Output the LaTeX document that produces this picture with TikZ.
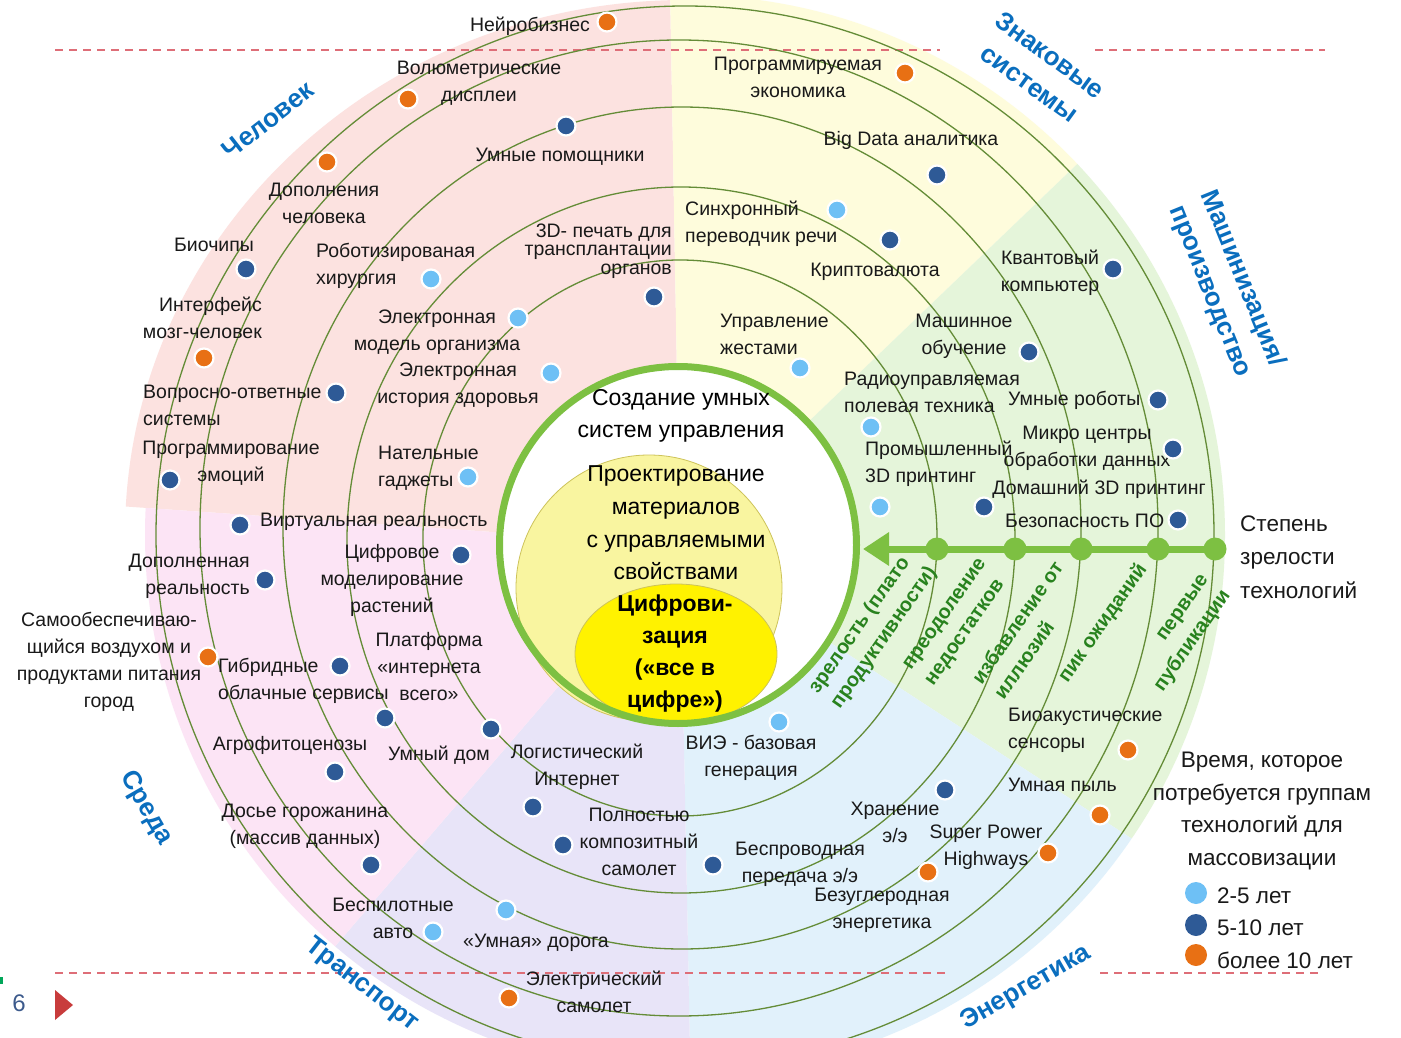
\documentclass[tikz,border=0pt]{standalone}
\usepackage{fontspec}
\setmainfont{Liberation Sans}
\usetikzlibrary{arrows.meta}

\definecolor{humanpink}{RGB}{252,226,224}
\definecolor{signyellow}{RGB}{254,252,220}
\definecolor{machgreen}{RGB}{229,245,218}
\definecolor{energyblue}{RGB}{225,241,251}
\definecolor{transplum}{RGB}{232,228,248}
\definecolor{envpink}{RGB}{252,228,245}
\definecolor{ringgreen}{RGB}{100,140,55}
\definecolor{coregreen}{RGB}{125,192,66}
\definecolor{paleyellow}{RGB}{249,245,160}
\definecolor{paleedge}{RGB}{205,195,90}
\definecolor{dotsoon}{RGB}{110,192,245}
\definecolor{dotmid}{RGB}{46,90,150}
\definecolor{dotlate}{RGB}{232,112,20}
\definecolor{areablue}{RGB}{10,110,190}
\definecolor{stagegreen}{RGB}{40,130,30}
\definecolor{dashred}{RGB}{222,110,120}
\definecolor{slidered}{RGB}{200,60,60}
\definecolor{slideblue}{RGB}{60,90,140}

\begin{document}
\begin{tikzpicture}[x=1pt, y=-1pt,
	ring/.style = {draw=ringgreen, line width=1.3pt},
	lbl/.style = {inner sep=0pt, align=center, text=black!90,
		font=\fontsize{19.5}{27}\selectfont},
	pin/.style = {circle, draw=white, line width=2.2pt,
		minimum size=19pt, inner sep=0pt},
	fast/.style = {pin, fill=dotsoon},
	medium/.style = {pin, fill=dotmid},
	slow/.style = {pin, fill=dotlate},
	area/.style = {inner sep=0pt, align=center, text=areablue,
		font=\bfseries\fontsize{26}{35}\selectfont},
	stage/.style = {inner sep=0pt, text=stagegreen, rotate=55,
		font=\bfseries\fontsize{20}{27}\selectfont},
	milestone/.style = {circle, fill=coregreen, minimum size=23pt, inner sep=0pt},
	core/.style = {circle, draw=coregreen, line width=7pt,
		minimum size=357pt, inner sep=0pt},
	slidedash/.style = {draw=dashred, line width=1.2pt, dash pattern=on 8pt off 6pt}]
	\useasboundingbox (0,0) rectangle (1401,1038);
	\fill[white] (0,0) rectangle (1401,1038);

	\begin{scope}
		\clip (685,535) ellipse [x radius=560, y radius=535];
		\fill[humanpink] (680,545) -- (669.5,-40) -- (-40,-40) -- (-40,495) -- cycle;
	\end{scope}
	\begin{scope}
		\clip (685,535) ellipse [x radius=540, y radius=540];
		\fill[signyellow] (680,545) -- (669.5,-40) -- (1290,-40) -- cycle;
		\fill[machgreen] (680,545) -- (1290,-40) -- (1440,-40) -- (1440,1039) -- cycle;
		\fill[energyblue] (680,545) -- (1440,1039) -- (1440,1100) -- (691,1100) -- cycle;
		\fill[transplum] (680,545) -- (691,1100) -- (203,1100) -- cycle;
		\fill[envpink] (680,545) -- (203,1100) -- (-40,1100) -- (-40,495) -- cycle;
	\end{scope}

	\draw[slidedash] (55,50) -- (940,50);
	\draw[slidedash] (1095,50) -- (1325,50);
	\draw[slidedash] (55,973) -- (948,973);
	\draw[slidedash] (1100,973) -- (1322,973);

	\draw[ring] (685,535) ellipse [x radius=529, y radius=529];
	\draw[ring] (679,528) ellipse [x radius=479, y radius=488];
	\draw[ring] (682,528) ellipse [x radius=399, y radius=421];
	\draw[ring] (681,540) ellipse [x radius=334, y radius=353];
	\draw[ring] (680,538) ellipse [x radius=257, y radius=278];

	\fill[white] (678,545) circle [radius=180];
	\filldraw[fill=paleyellow, draw=paleedge, line width=0.8pt] (649,588) circle [radius=133];
	\filldraw[fill=yellow, draw=paleedge, line width=0.8pt] (676,654) ellipse [x radius=101, y radius=70];
	\node[core] (core) at (678,545) {};

	\node[lbl, text=black, font=\fontsize{23}{32}\selectfont] (control) at (681,416) {Создание умных\\систем управления};
	\node[lbl, text=black, font=\fontsize{23}{32.7}\selectfont] (materials) at (676,523) {Проектирование\\материалов\\с управляемыми\\свойствами};
	\node[lbl, text=black, font=\bfseries\fontsize{23}{32}\selectfont] (digital) at (675,654) {Цифрови-\\зация\\(«все в\\цифре»)};

	% человек
	\node[lbl] (neuro) at (530,26) {Нейробизнес};
	\node[slow] at (607,22) {};
	\node[lbl] (volume) at (479,83) {Волюметрические\\дисплеи};
	\node[slow] at (408,99) {};
	\node[lbl] (assist) at (560,157) {Умные помощники};
	\node[medium] at (566,126) {};
	\node[lbl] (augment) at (324,203) {Дополнения\\человека};
	\node[slow] at (327,162) {};
	\node[lbl] (biochip) at (214,245) {Биочипы};
	\node[medium] at (246,269) {};
	\node[lbl, anchor=west, align=left] (robosurg) at (316,266) {Роботизированая\\хирургия};
	\node[fast] at (431,279) {};
	\node[lbl, anchor=east, align=right] (bci) at (262,318) {Интерфейс\\мозг-человек};
	\node[slow] at (204,358) {};
	\node[lbl, anchor=west, align=left] (qa) at (143,405) {Вопросно-ответные\\системы};
	\node[medium] at (336,393) {};
	\node[lbl] (emotion) at (231,463) {Программирование\\эмоций};
	\node[medium] at (170,480) {};
	\node[lbl, anchor=east, align=right, font=\fontsize{19.5}{18.5}\selectfont] (organs) at (672,251) {3D- печать для\\трансплантации\\органов};
	\node[medium] at (654,297) {};
	\node[lbl] (bodymodel) at (437,332) {Электронная\\модель организма};
	\node[fast] at (518,318) {};
	\node[lbl] (health) at (458,385) {Электронная\\история здоровья};
	\node[fast] at (551,373) {};
	\node[lbl, anchor=west, align=left] (wearable) at (378,468) {Нательные\\гаджеты};
	\node[fast] at (468,477) {};

	% среда
	\node[lbl, anchor=west] (vr) at (260,522) {Виртуальная реальность};
	\node[medium] at (240,525) {};
	\node[lbl, anchor=east, align=right] (ar) at (250,576) {Дополненная\\реальность};
	\node[medium] at (265,580) {};
	\node[lbl] (plants) at (392,580) {Цифровое\\моделирование\\растений};
	\node[medium] at (461,555) {};
	\node[lbl] (city) at (109,662) {Самообеспечиваю-\\щийся воздухом и\\продуктами питания\\город};
	\node[slow] at (208,657) {};
	\node[lbl, anchor=west, align=left] (cloud) at (218,681) {Гибридные\\облачные сервисы};
	\node[medium] at (340,666) {};
	\node[lbl] (iot) at (429,667) {Платформа\\«интернета\\всего»};
	\node[medium] at (385,718) {};
	\node[lbl] (agro) at (290,745) {Агрофитоценозы};
	\node[medium] at (335,772) {};
	\node[lbl] (home) at (439,755) {Умный дом};
	\node[medium] at (491,729) {};
	\node[lbl] (dossier) at (305,826) {Досье горожанина\\(массив данных)};
	\node[medium] at (371,865) {};
	\node[lbl] (drone) at (393,918) {Беспилотные\\авто};
	\node[fast] at (433,932) {};

	% транспорт
	\node[lbl] (logist) at (577,767) {Логистический\\Интернет};
	\node[medium] at (533,807) {};
	\node[lbl] (composite) at (639,842) {Полностью\\композитный\\самолет};
	\node[medium] at (563,845) {};
	\node[lbl] (road) at (536,943) {«Умная» дорога};
	\node[fast] at (506,910) {};
	\node[lbl] (eplane) at (594,992) {Электрический\\самолет};
	\node[slow] at (509,998) {};

	% энергетика
	\node[lbl] (renew) at (751,758) {ВИЭ - базовая\\генерация};
	\node[fast] at (779,722) {};
	\node[lbl] (storage) at (895,822) {Хранение\\э/э};
	\node[medium] at (945,790) {};
	\node[lbl] (superpower) at (986,847) {Super Power\\Highways};
	\node[slow] at (1048,853) {};
	\node[lbl] (wireless) at (800,864) {Беспроводная\\передача э/э};
	\node[medium] at (713,865) {};
	\node[lbl] (carbonfree) at (882,910) {Безуглеродная\\энергетика};
	\node[slow] at (928,872) {};

	% машинизация
	\node[lbl, anchor=west, align=left] (bioacoustic) at (1008,730) {Биоакустические\\сенсоры};
	\node[slow] at (1128,750) {};
	\node[lbl, anchor=west] (dust) at (1008,785) {Умная пыль};
	\node[slow] at (1100,815) {};
	\node[lbl] (quantum) at (1050,273) {Квантовый\\компьютер};
	\node[medium] at (1113,269) {};
	\node[lbl] (ml) at (964,336) {Машинное\\обучение};
	\node[medium] at (1029,352) {};
	\node[lbl, anchor=west, align=left] (radio) at (844,392) {Радиоуправляемая\\полевая техника};
	\node[fast] at (871,427) {};
	\node[lbl, anchor=west] (robots) at (1008,400) {Умные роботы};
	\node[medium] at (1158,400) {};
	\node[lbl, anchor=west, align=left] (print3d) at (865,464) {Промышленный\\3D принтинг};
	\node[fast] at (880,507) {};
	\node[lbl] (microdc) at (1087,448) {Микро центры\\обработки данных};
	\node[medium] at (1173,449) {};
	\node[lbl] (homeprint) at (1099,489) {Домашний 3D принтинг};
	\node[medium] at (984,507) {};
	\node[lbl, anchor=west] (security) at (1005,521) {Безопасность ПО};
	\node[medium] at (1178,520) {};

	% знаковые системы
	\node[lbl] (economy) at (798,77) {Программируемая\\экономика};
	\node[slow] at (905,73) {};
	\node[lbl] (bigdata) at (911,140) {Big Data аналитика};
	\node[medium] at (937,175) {};
	\node[lbl, anchor=west, align=left] (translate) at (685,224) {Синхронный\\переводчик речи};
	\node[fast] at (837,210) {};
	\node[lbl] (crypto) at (875,272) {Криптовалюта};
	\node[medium] at (890,240) {};
	\node[lbl, anchor=west, align=left] (gesture) at (720,334) {Управление\\жестами};
	\node[fast] at (800,368) {};

	\node[area, rotate=38] (human) at (268,120) {Человек};
	\node[area, rotate=-36] (signs) at (1040,69) {Знаковые\\системы};
	\node[area, rotate=-68] (machines) at (1226,285) {Машинизация/\\производство};
	\node[area, rotate=-60] (environ) at (146,808) {Среда};
	\node[area, rotate=-38] (transport) at (362,985) {Транспорт};
	\node[area, rotate=30] (energy) at (1026,988) {Энергетика};

	\node[milestone] (m1) at (937,549) {};
	\node[milestone] (m2) at (1015,549) {};
	\node[milestone] (m3) at (1081,549) {};
	\node[milestone] (m4) at (1158,549) {};
	\node[milestone] (m5) at (1215,549) {};
	\draw[coregreen, line width=7pt, shorten >=3pt, -{Triangle[length=26pt,width=32pt]}]
		(m5.center) -- (m5.center -| core.east);

	\node[stage, align=left] (plateau) at (873,630) {зрелость (плато\\продуктивности)};
	\node[stage, align=left] (slope) at (957,623) {преодоление\\недостатков};
	\node[stage, align=left] (trough) at (1028,630) {избавление от\\иллюзий};
	\node[stage] (peak) at (1103,623) {пик ожиданий};
	\node[stage, align=right] (trigger) at (1183,634) {первые\\публикации};

	\node[lbl, anchor=west, align=left, font=\fontsize{22.5}{33.5}\selectfont] (ripeness) at (1240,557) {Степень\\зрелости\\технологий};

	\node[lbl, font=\fontsize{22.5}{32.7}\selectfont] (legend) at (1262,811) {Время, которое\\потребуется группам\\технологий для\\массовизации};
	\node[fast, draw=none, minimum size=22pt] (k1) at (1196,893) {};
	\node[medium, draw=none, minimum size=22pt] (k2) at (1196,925) {};
	\node[slow, draw=none, minimum size=22pt] (k3) at (1196,955) {};
	\node[lbl, anchor=west, font=\fontsize{22.5}{27}\selectfont] at (1217,896) {2-5 лет};
	\node[lbl, anchor=west, font=\fontsize{22.5}{27}\selectfont] at (1217,928) {5-10 лет};
	\node[lbl, anchor=west, font=\fontsize{22.5}{27}\selectfont] at (1217,960) {более 10 лет};

	\fill[teal!70!green] (0,977) rectangle (3,984);
	\node[lbl, text=slideblue, font=\fontsize{24}{28}\selectfont] (page) at (19,1003) {6};
	\fill[slidered] (55,990) -- (55,1020) -- (73,1005) -- cycle;
\end{tikzpicture}
\end{document}
